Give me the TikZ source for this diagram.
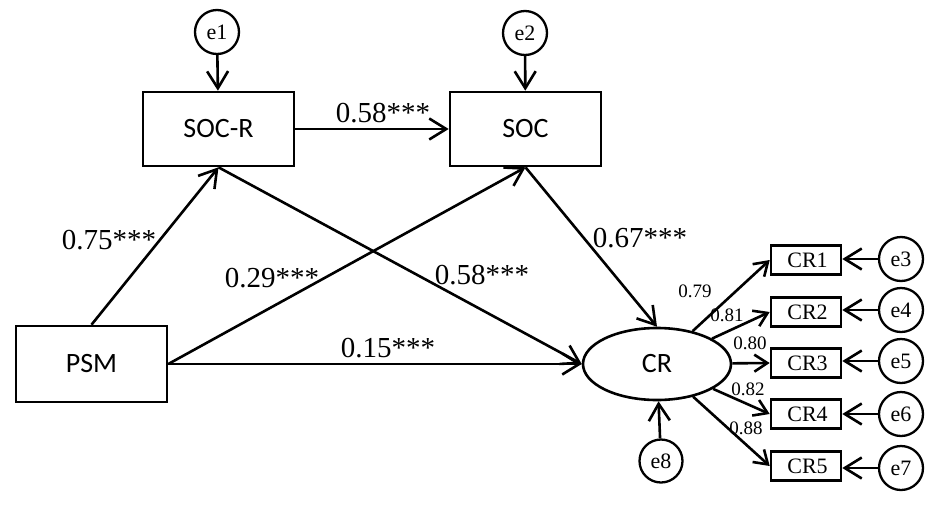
\documentclass[tikz,border=0pt]{standalone}
\usepackage{fontspec}
\setmainfont{Liberation Serif}
\newfontfamily\calib{Carlito}
\usetikzlibrary{arrows.meta,shapes.geometric}
\begin{document}
\begin{tikzpicture}[x=1pt,y=-1pt,
  box/.style={draw, line width=2.6pt, minimum width=151pt, minimum height=74pt, inner sep=0pt, font=\calib\fontsize{28}{28}\selectfont},
  err/.style={draw, circle, line width=2.3pt, minimum size=44pt, inner sep=0pt, font=\fontsize{22}{22}\selectfont},
  ind/.style={draw, line width=2.6pt, minimum width=70pt, minimum height=29pt, inner sep=0pt, font=\fontsize{22}{22}\selectfont},
  lat/.style={draw, ellipse, line width=2.6pt, minimum width=148pt, minimum height=72pt, inner sep=0pt, font=\calib\fontsize{28}{28}\selectfont},
  big/.style={font=\fontsize{29}{29}\selectfont, inner sep=0pt},
  small/.style={font=\fontsize{19}{19}\selectfont, inner sep=0pt},
  arr/.style={line width=2.6pt, -{Straight Barb[length=17pt,width=21pt]}},
  sarr/.style={line width=2.6pt, -{Straight Barb[length=13pt,width=17pt]}}
]
\useasboundingbox (0,0) rectangle (935,504);

% main nodes
\node[err] (e1) at (217,32) {e1};
\node[err] (e2) at (525,33) {e2};
\node[box] (SOCR) at (218.5,129) {SOC-R};
\node[box] (SOC) at (525.5,129) {SOC};
\node[box, minimum height=76pt] (PSM) at (91.5,364) {PSM};
\node[lat] (CR) at (657,364) {CR};
\node[err, minimum size=43pt] (e8) at (661,461) {e8};

% indicators
\foreach \i/\y in {1/260,2/312,3/363,4/414,5/466}{
  \node[ind] (CR\i) at (806,\y) {\hspace*{3pt}CR\i};
}
\node[err] (e3) at (901,259) {e3};
\node[err] (e4) at (901,310) {e4};
\node[err] (e5) at (901,361) {e5};
\node[err] (e6) at (901,414) {e6};
\node[err] (e7) at (901,468) {e7};

% structural paths
\draw[arr] (e1) -- (SOCR);
\draw[arr] (e2) -- (SOC);
\draw[arr] (SOCR) -- (SOC);
\draw[arr] (PSM.north) -- (SOCR.south);
\draw[arr] (PSM.east) -- (SOC.south);
\draw[arr] (SOCR.south) -- (CR.west);
\draw[arr] (PSM.east) -- (CR.west);
\draw[arr] (SOC.south) -- (CR.north);
\draw[arr] (e8) -- (CR);

% measurement paths
\foreach \i in {1,...,5}{
  \draw[sarr] (CR) -- (CR\i.west);
}
\draw[arr] (e3) -- (e3 -| CR1.east);
\draw[arr] (e4) -- (e4 -| CR2.east);
\draw[arr] (e5) -- (e5 -| CR3.east);
\draw[arr] (e6) -- (e6 -| CR4.east);
\draw[arr] (e7) -- (e7 -| CR5.east);

% labels
\node[big] (l1) at (383,113) {0.58***};
\node[big] (l2) at (109,240) {0.75***};
\node[big] (l3) at (272,278) {0.29***};
\node[big] (l4) at (482,275) {0.58***};
\node[big] (l5) at (388,348) {0.15***};
\node[big] (l6) at (640,238) {0.67***};
\node[small] (s1) at (695,291) {0.79};
\node[small] (s2) at (727,315) {0.81};
\node[small] (s3) at (750,343) {0.80};
\node[small] (s4) at (748,389) {0.82};
\node[small] (s5) at (746,428) {0.88};
\end{tikzpicture}
\end{document}
